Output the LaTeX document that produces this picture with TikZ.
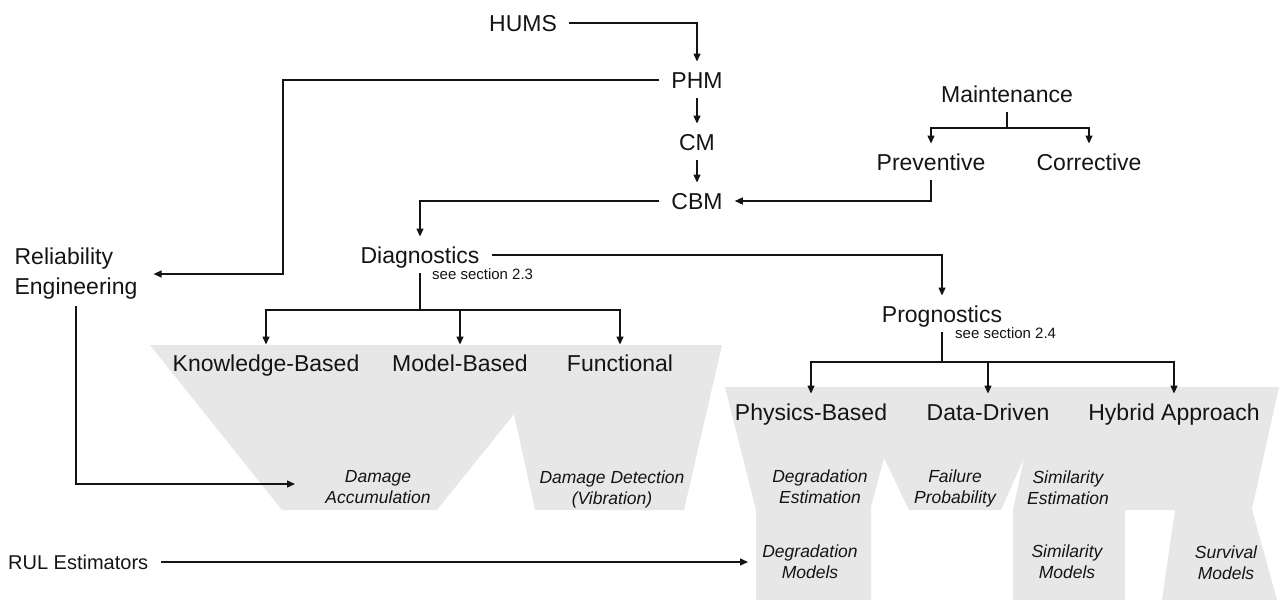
\documentclass[tikz,border=0pt]{standalone}
\usepackage{fontspec}
\setmainfont{Liberation Sans}
\usetikzlibrary{arrows.meta}
\definecolor{shade}{RGB}{231,231,231}
\definecolor{ink}{RGB}{20,20,20}
\newcommand{\mainfs}{\fontsize{23}{30}\selectfont}
\newcommand{\italfs}{\fontsize{17.5}{21}\selectfont\itshape}
\begin{document}
\begin{tikzpicture}[x=1pt,y=-1pt,
  main/.style={font=\mainfs, text=ink, text height=16.5pt, text depth=0pt, inner xsep=12pt, inner ysep=10pt},
  twoline/.style={font=\mainfs, text=ink, align=left, inner xsep=16pt, inner ysep=6pt},
  note/.style={font=\fontsize{15}{18}\selectfont, text=ink, inner sep=0pt, anchor=west},
  ital/.style={font=\italfs, text=ink, align=center, inner sep=0pt},
  ln/.style={line width=1.3pt, draw=ink},
  arr/.style={ln, -{Triangle[length=8pt,width=7pt]}},
  blob/.style={fill=shade, draw=none}]
\useasboundingbox (0,0) rectangle (1279,600);

% grey funnels
\fill[blob] (150,345) -- (722,345) -- (684,510) -- (535,510) -- (514,414) -- (437,510) -- (282,510) -- cycle;
\fill[blob] (725,387) -- (1279,387) -- (1252,509) -- (1277,600) -- (1162,600) -- (1175,510) -- (1125,510) -- (1125,600) -- (1013,600) -- (1013,510) -- (1024,458) -- (1001,510) -- (909,510) -- (884,458) -- (871,507) -- (871,600) -- (756,600) -- (756,510) -- cycle;

% main labels
\node[main] (hums) at (523,23) {HUMS};
\node[main] (phm) at (697,80) {PHM};
\node[main] (cm) at (697,142) {CM};
\node[main] (cbm) at (697,201) {CBM};
\node[main] (maint) at (1007,94) {Maintenance};
\node[main] (prev) at (931,162) {Preventive};
\node[main] (corr) at (1089,162) {Corrective};
\node[main] (diag) at (420,255) {Diagnostics};
\node[note] (sec23) at (432,274) {see section 2.3};
\node[main] (prog) at (942,314) {Prognostics};
\node[note] (sec24) at (955,333) {see section 2.4};
\node[twoline] (rel) at (76,274) {Reliability\\Engineering};
\node[font=\fontsize{20}{24}\selectfont, text=ink, inner xsep=13pt, inner ysep=0pt, anchor=west] (rul) at (-5,562) {RUL Estimators};

\node[main] (kb) at (266,363) {Knowledge-Based};
\node[main] (mb) at (460,363) {Model-Based};
\node[main] (fn) at (620,363) {Functional};
\node[main] (phys) at (811,412) {Physics-Based};
\node[main] (data) at (988,412) {Data-Driven};
\node[main] (hyb) at (1174,412) {Hybrid Approach};

% italic sub labels
\node[ital] (damacc) at (378,487) {Damage\\Accumulation};
\node[ital] (damdet) at (612,489) {Damage Detection\\(Vibration)};
\node[ital] (degest) at (820,486.5) {Degradation\\Estimation};
\node[ital] (failp) at (955,488) {Failure\\Probability};
\node[ital] (simest) at (1068,488) {Similarity\\Estimation};
\node[ital] (degmod) at (810,562) {Degradation\\Models};
\node[ital] (simmod) at (1067,562) {Similarity\\Models};
\node[ital] (surv) at (1226,563) {Survival\\Models};

% free ends
\coordinate (k1) at (283,0);
\coordinate (daTip) at (295,484);
\coordinate (rulTip) at (748,562);

% connectors
\draw[arr] (hums.east) -| (phm.north);
\draw[arr] (phm.south) -- (cm.north);
\draw[arr] (cm.south) -- (cbm.north);
\draw[arr] (phm.west) -| (k1 |- rel.east) -- (rel.east);
\draw[arr] (cbm.west) -| (diag.north);
\draw[arr] (diag.east) -| (prog.north);
\draw[arr] (prev.south) |- (cbm.east);

\draw[ln] (maint.south) -- (maint.south |- 0,128) coordinate (mj);
\draw[arr] (mj) -| (prev.north);
\draw[arr] (mj) -| (corr.north);

\draw[ln] (diag.south) -- (diag.south |- 0,310) coordinate (dj);
\draw[arr] (dj) -| (kb.north);
\draw[arr] (dj) -| (mb.north);
\draw[arr] (dj) -| (fn.north);

\draw[ln] (prog.south) -- (prog.south |- 0,362) coordinate (pj);
\draw[arr] (pj) -| (phys.north);
\draw[arr] (pj) -| (data.north);
\draw[arr] (pj) -| (hyb.north);

\draw[arr] (rel.south) |- (daTip);
\draw[arr] (rul.east) -- (rulTip);
\end{tikzpicture}
\end{document}
